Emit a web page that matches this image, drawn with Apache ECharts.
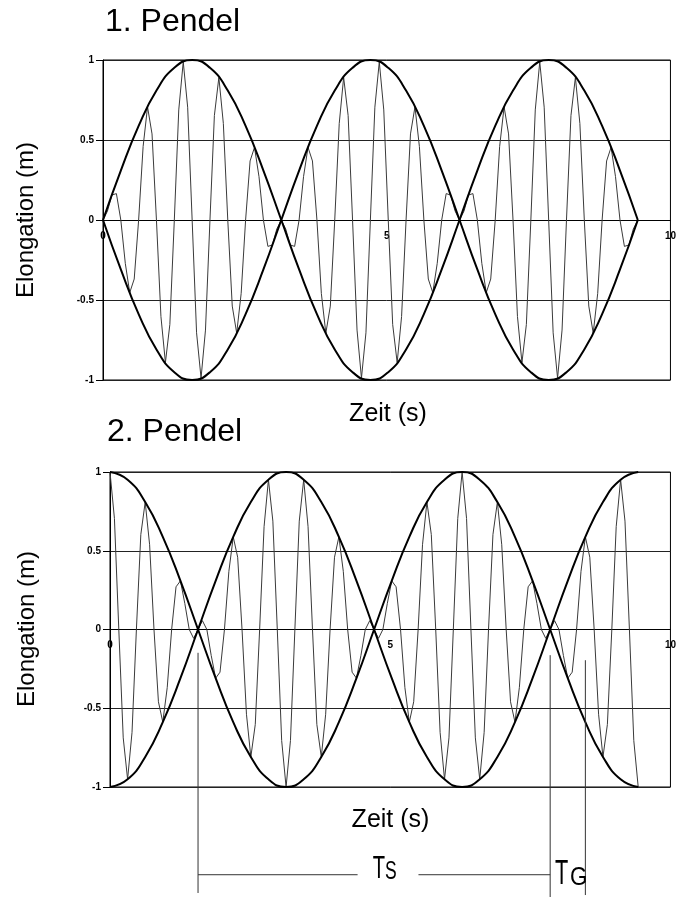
<!DOCTYPE html>
<html>
<head>
<meta charset="utf-8">
<script src="https://cdn.jsdelivr.net/npm/echarts@6/dist/echarts.min.js"></script>
<style>html,body{margin:0;padding:0;background:#fff}#c{width:679px;height:897px}</style>
</head>
<body>
<div id="c"></div>
<script>
// sample times (s) of the fast oscillation
const TIME = [0,0.079,0.157,0.236,0.314,0.393,0.471,0.550,0.628,0.707,0.785,0.864,0.942,1.021,1.100,1.178,1.257,1.335,1.414,1.492,
1.571,1.649,1.728,1.806,1.885,1.963,2.042,2.121,2.199,2.278,2.356,2.435,2.513,2.592,2.670,2.749,2.827,2.906,2.985,3.063,
3.142,3.220,3.299,3.377,3.456,3.534,3.613,3.691,3.770,3.848,3.927,4.006,4.084,4.163,4.241,4.320,4.398,4.477,4.555,4.634,
4.712,4.791,4.869,4.948,5.027,5.105,5.184,5.262,5.341,5.419,5.498,5.576,5.655,5.733,5.812,5.890,5.969,6.048,6.126,6.205,
6.283,6.362,6.440,6.519,6.597,6.676,6.754,6.833,6.912,6.990,7.069,7.147,7.226,7.304,7.383,7.461,7.540,7.618,7.697,7.775,
7.854,7.933,8.011,8.090,8.168,8.247,8.325,8.404,8.482,8.561,8.639,8.718,8.796,8.875,8.954,9.032,9.111,9.189,9.268,9.346,9.425];

// elongation of pendulum 1 (m)
const PENDEL1 = [0,0.056,0.156,0.165,0,-0.271,-0.454,-0.369,
0,0.459,0.707,0.538,0,-0.603,-0.891,-0.653,
0,0.688,0.988,0.705,0,-0.705,-0.988,-0.688,
0,0.653,0.891,0.603,0,-0.538,-0.707,-0.459,
0,0.369,0.454,0.271,0,-0.165,-0.156,-0.056,
0,-0.056,-0.156,-0.165,0,0.271,0.454,0.369,
0,-0.459,-0.707,-0.538,0,0.603,0.891,0.653,
0,-0.688,-0.988,-0.705,0,0.705,0.988,0.688,
0,-0.653,-0.891,-0.603,0,0.538,0.707,0.459,
0,-0.369,-0.454,-0.271,0,0.165,0.156,0.056,
0,0.056,0.156,0.165,0,-0.271,-0.454,-0.369,
0,0.459,0.707,0.538,0,-0.603,-0.891,-0.653,
0,0.688,0.988,0.705,0,-0.705,-0.988,-0.688,
0,0.653,0.891,0.603,0,-0.538,-0.707,-0.459,
0,0.369,0.454,0.271,0,-0.165,-0.156,-0.056,
0];

// elongation of pendulum 2 (m)
const PENDEL2 = [1,0.705,0,-0.688,-0.951,-0.653,0,0.603,
0.809,0.538,0,-0.459,-0.588,-0.369,0,0.271,
0.309,0.165,0,-0.056,0,0.056,0,-0.165,
-0.309,-0.271,0,0.369,0.588,0.459,0,-0.538,
-0.809,-0.603,0,0.653,0.951,0.688,0,-0.705,
-1,-0.705,0,0.688,0.951,0.653,0,-0.603,
-0.809,-0.538,0,0.459,0.588,0.369,0,-0.271,
-0.309,-0.165,0,0.056,0,-0.056,0,0.165,
0.309,0.271,0,-0.369,-0.588,-0.459,0,0.538,
0.809,0.603,0,-0.653,-0.951,-0.688,0,0.705,
1,0.705,0,-0.688,-0.951,-0.653,0,0.603,
0.809,0.538,0,-0.459,-0.588,-0.369,0,0.271,
0.309,0.165,0,-0.056,0,0.056,0,-0.165,
-0.309,-0.271,0,0.369,0.588,0.459,0,-0.538,
-0.809,-0.603,0,0.653,0.951,0.688,0,-0.705,
-1];

// envelope curves
const ENV_TIME = [0,0.314,0.628,0.942,1.257,1.571,1.885,2.199,2.513,2.827,3.142,3.456,3.770,4.084,4.398,4.712,
5.027,5.341,5.655,5.969,6.283,6.597,6.912,7.226,7.540,7.854,8.168,8.482,8.796,9.111,9.425];
const ENV1_UPPER = [0,0.309,0.588,0.809,0.951,1,0.951,0.809,0.588,0.309,0,-0.309,-0.588,-0.809,-0.951,-1,
-0.951,-0.809,-0.588,-0.309,0,0.309,0.588,0.809,0.951,1,0.951,0.809,0.588,0.309,0];
const ENV1_LOWER = [0,-0.309,-0.588,-0.809,-0.951,-1,-0.951,-0.809,-0.588,-0.309,0,0.309,0.588,0.809,0.951,1,
0.951,0.809,0.588,0.309,0,-0.309,-0.588,-0.809,-0.951,-1,-0.951,-0.809,-0.588,-0.309,0];
const ENV2_UPPER = [1,0.951,0.809,0.588,0.309,0,-0.309,-0.588,-0.809,-0.951,-1,-0.951,-0.809,-0.588,-0.309,0,
0.309,0.588,0.809,0.951,1,0.951,0.809,0.588,0.309,0,-0.309,-0.588,-0.809,-0.951,-1];
const ENV2_LOWER = [-1,-0.951,-0.809,-0.588,-0.309,0,0.309,0.588,0.809,0.951,1,0.951,0.809,0.588,0.309,0,
-0.309,-0.588,-0.809,-0.951,-1,-0.951,-0.809,-0.588,-0.309,0,0.309,0.588,0.809,0.951,1];

// axis ranges / ticks
const X_RANGE = [0, 10], X_STEP = 5;
const Y_RANGE = [-1, 1], Y_STEP = 0.5;

// annotation of panel 2 (data coordinates): [x, yTop, yBottom]
const MARK_VERTICAL = [[1.571, -0.148, -1.673], [7.854, -0.163, -1.70], [8.482, -0.195, -1.686]];
// horizontal T_S line pieces: [xStart, xEnd, y]
const MARK_HORIZONTAL = [[1.571, 4.418, -1.557], [5.504, 7.854, -1.557]];

const FONT = "'Liberation Sans', Arial, Helvetica, sans-serif";
const pair = (xs, ys) => xs.map((x, i) => [x, ys[i]]);

const GRIDS = [
  { left: 103, top: 60, width: 569, height: 320 },
  { left: 110, top: 472, width: 562, height: 315 }
];

function makeGrid(g) {
  return Object.assign({ show: true, borderColor: '#000', borderWidth: 1, backgroundColor: 'transparent' }, g);
}
function makeX(idx) {
  return {
    type: 'value', gridIndex: idx, min: X_RANGE[0], max: X_RANGE[1], interval: X_STEP,
    position: 'bottom', offset: -GRIDS[idx].height / 2,
    axisLine: { show: true, onZero: false, lineStyle: { color: '#000', width: 1 } },
    axisTick: { show: false }, splitLine: { show: false },
    axisLabel: { fontSize: 10, fontWeight: 'bold', fontFamily: FONT, color: '#000', margin: 11 }
  };
}
function makeY(idx) {
  return {
    type: 'value', gridIndex: idx, min: Y_RANGE[0], max: Y_RANGE[1], interval: Y_STEP,
    axisLine: { show: true, onZero: false, lineStyle: { color: '#000', width: 1 } },
    axisTick: { show: true, length: 7, lineStyle: { color: '#000' } },
    splitLine: { show: true, lineStyle: { color: '#222', width: 1 } },
    axisLabel: { fontSize: 10, fontWeight: 'bold', fontFamily: FONT, color: '#000', margin: 9 }
  };
}
function thin(idx, ys) {
  return { type: 'line', xAxisIndex: idx, yAxisIndex: idx, data: pair(TIME, ys), showSymbol: false, smooth: false,
    lineStyle: { color: '#3a3a3a', width: 1 }, z: 2, silent: true };
}
function env(idx, ys) {
  return { type: 'line', xAxisIndex: idx, yAxisIndex: idx, data: pair(ENV_TIME, ys), showSymbol: false, smooth: true,
    lineStyle: { color: '#000', width: 2 }, z: 3, silent: true };
}
function mark(data) {
  return { type: 'line', xAxisIndex: 1, yAxisIndex: 1, data, showSymbol: false, clip: false,
    lineStyle: { color: '#333', width: 1 }, z: 4, silent: true };
}

const series = [
  thin(0, PENDEL1), env(0, ENV1_UPPER), env(0, ENV1_LOWER),
  thin(1, PENDEL2), env(1, ENV2_UPPER), env(1, ENV2_LOWER)
];
MARK_VERTICAL.forEach(v => series.push(mark([[v[0], v[1]], [v[0], v[2]]])));
MARK_HORIZONTAL.forEach(h => series.push(mark([[h[0], h[2]], [h[1], h[2]]])));

function txt(text, x, y, size, opts) {
  const o = opts || {};
  return { type: 'text', x, y, rotation: o.rotation || 0, scaleX: o.scaleX || 1, silent: true, z: 10,
    style: { text, fill: '#000', fontSize: size, fontFamily: FONT, align: o.align || 'left', verticalAlign: 'middle' } };
}

const chart = echarts.init(document.getElementById('c'), null, { renderer: 'canvas' });
chart.setOption({
  animation: false,
  backgroundColor: '#fff',
  grid: GRIDS.map(makeGrid),
  xAxis: [makeX(0), makeX(1)],
  yAxis: [makeY(0), makeY(1)],
  series,
  graphic: [
    txt('1. Pendel', 105, 22, 32),
    txt('2. Pendel', 107, 432, 32),
    txt('Elongation (m)', 26, 220, 24, { rotation: Math.PI / 2, align: 'center' }),
    txt('Elongation (m)', 27, 629, 24, { rotation: Math.PI / 2, align: 'center' }),
    txt('Zeit (s)', 388, 414, 25, { align: 'center' }),
    txt('Zeit (s)', 390.5, 820.5, 25, { align: 'center' }),
    txt('T', 372.7, 869, 32, { scaleX: 0.63 }),
    txt('S', 385, 872, 25, { scaleX: 0.70 }),
    txt('T', 555, 874, 35, { scaleX: 0.62 }),
    txt('G', 570, 877.5, 26, { scaleX: 0.86 })
  ]
});
</script>
</body>
</html>
